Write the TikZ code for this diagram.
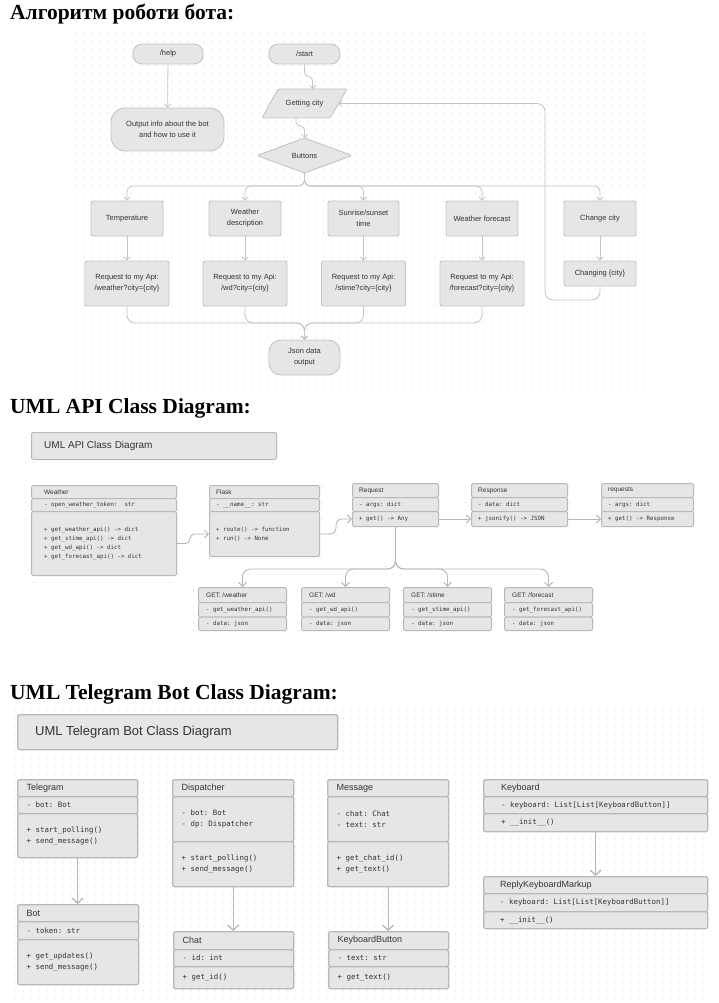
\documentclass[tikz,border=0pt]{standalone}
\usepackage{fontspec}
\setmainfont{Liberation Serif}
\setsansfont{Liberation Sans}
\setmonofont{DejaVu Sans Mono}
\usetikzlibrary{arrows.meta,calc}
\definecolor{fl}{HTML}{E6E6E6}
\definecolor{bd}{HTML}{C4C4C4}
\definecolor{bdu}{HTML}{B8B8B8}
\definecolor{tx}{HTML}{333333}
\definecolor{ln}{HTML}{C4C4C4}
\definecolor{lnu}{HTML}{B8B8B8}
\definecolor{dotc}{HTML}{DADADA}
\newcommand\ucomp[8]{%
  \node[comp, minimum width=#4pt, minimum height=#5pt, anchor=north west] (#1) at (#2,#3) {};
  \node[utext, #7, anchor=west] (#1t) at ([xshift=#6pt]#1.west) {#8};
}
\tikzset{
  fbox/.style={draw=bd, fill=fl, line width=0.9pt, rounded corners=2pt, text=tx,
    font=\fontsize{7.5}{11}\selectfont\sffamily, align=center, inner sep=0pt},
  pill/.style={fbox, rounded corners=9pt},
  ftext/.style={text=tx, font=\fontsize{7.5}{11}\selectfont\sffamily, align=center, inner sep=0pt},
  fshape/.style={draw=bd, fill=fl, line width=0.9pt, rounded corners=1.5pt},
  conn/.style={draw=ln, line width=0.8pt, -{Straight Barb[length=3pt,width=6pt]}},
  comp/.style={draw=bdu, fill=fl, line width=1pt, rounded corners=1.5pt, inner sep=0pt},
  utext/.style={inner sep=0pt, align=left, text=tx},
  ahd/.style={font=\fontsize{6.5}{8}\selectfont\sffamily},
  amono/.style={font=\fontsize{5.8}{8.7}\selectfont\ttfamily},
  thd/.style={font=\fontsize{9}{11}\selectfont\sffamily},
  tmono/.style={font=\fontsize{7.4}{11}\selectfont\ttfamily},
  uconn/.style={draw=lnu, line width=0.9pt, -{Straight Barb[length=4pt,width=8pt]}},
  tconn/.style={draw=lnu, line width=1.3pt, -{Straight Barb[length=5pt,width=11pt]}},
  heading/.style={font=\fontsize{21.5}{24}\selectfont\bfseries, anchor=base west, inner sep=0pt},
}
\begin{document}
\begin{tikzpicture}[x=1pt,y=-1pt]
\fill[white] (0,0) rectangle (719,1003);
\useasboundingbox (0,0) rectangle (719,1003);

% dot grids
\fill[dotc] \foreach \x in {75,83,...,643} { \foreach \y in {33,41,...,385} { (\x,\y) rectangle ++(0.9,0.9) } };
\fill[dotc] \foreach \x in {25,33,...,700} { \foreach \y in {430,438,...,645} { (\x,\y) rectangle ++(0.9,0.9) } };
\fill[dotc] \foreach \x in {15,23,...,710} { \foreach \y in {710,718,...,998} { (\x,\y) rectangle ++(0.9,0.9) } };

% headings
\node[heading] (h1) at (10,19.5) {Алгоритм роботи бота:};
\node[heading] (h2) at (10,413) {UML API Class Diagram:};
\node[heading] (h3) at (10,699) {UML Telegram Bot Class Diagram:};

% ===== flowchart =====
\node[pill, minimum width=70pt, minimum height=20pt] (help) at (168,54) {/help};
\node[pill, minimum width=71pt, minimum height=20pt] (start) at (304.5,54) {/start};
\node[fbox, rounded corners=14pt, minimum width=113pt, minimum height=43pt] (out) at (167.5,129.5) {Output info about the bot\\and how to use it};
\draw[fshape] (278,89) -- (347,89) -- (330,118) -- (262,118) -- cycle;
\node[ftext] (gc) at (304.5,103.5) {Getting city};
\coordinate (gcT) at (312.5,89);
\coordinate (gcB) at (296,118);
\coordinate (gcR) at (338.5,103.5);
\draw[fshape] (257,155.5) -- (304.5,138) -- (352,155.5) -- (304.5,173) -- cycle;
\node[ftext] (btn) at (304.5,155.5) {Buttons};
\coordinate (btnT) at (304.5,138);
\coordinate (btnB) at (304.5,173);

\node[fbox, minimum width=72pt, minimum height=35pt] (temp) at (127,218.5) {Temperature};
\node[fbox, minimum width=72pt, minimum height=35pt] (wdesc) at (245,218.5) {Weather\\description};
\node[fbox, minimum width=71pt, minimum height=35pt] (sun) at (363.5,218.5) {Sunrise/sunset\\time};
\node[fbox, minimum width=72pt, minimum height=35pt] (fc) at (482,218.5) {Weather forecast};
\node[fbox, minimum width=72pt, minimum height=35pt] (cc) at (600,218.5) {Change city};

\node[fbox, minimum width=84pt, minimum height=45pt] (r1) at (127,283.5) {Request to my Api:\\/weather?city=\{city\}};
\node[fbox, minimum width=84pt, minimum height=45pt] (r2) at (245,283.5) {Request to my Api:\\/wd?city=\{city\}};
\node[fbox, minimum width=84pt, minimum height=45pt] (r3) at (363.5,283.5) {Request to my Api:\\/stime?city=\{city\}};
\node[fbox, minimum width=84pt, minimum height=45pt] (r4) at (482,283.5) {Request to my Api:\\/forecast?city=\{city\}};
\node[fbox, minimum width=72pt, minimum height=25pt] (chg) at (600,273.5) {Changing \{city\}};
\node[fbox, rounded corners=12pt, minimum width=71pt, minimum height=35pt] (json) at (304.5,357.5) {Json data\\output};

\draw[conn] (help) -- (out);
\draw[conn, rounded corners=4pt] (start.south) -- ++(0,12) -| (gcT);
\draw[conn, rounded corners=4pt] (gcB) -- ++(0,8) -| (btnT);
\coordinate (bj) at (304.5,186);
\foreach \n in {temp,wdesc,sun,fc,cc}
  \draw[conn, rounded corners=6pt] (btnB) |- (\n.north |- bj) -- (\n.north);
\draw[conn] (temp) -- (r1);
\draw[conn] (wdesc) -- (r2);
\draw[conn] (sun) -- (r3);
\draw[conn] (fc) -- (r4);
\draw[conn] (cc) -- (chg);
\coordinate (lp) at (545,300);
\draw[conn, rounded corners=8pt] (chg.south) |- (lp) |- (gcR);
\coordinate (jj) at (304.5,323);
\foreach \n in {r1,r2,r3,r4}
  \draw[conn, rounded corners=8pt] (\n.south) |- (json.north |- jj) -- (json.north);

% ===== UML API =====
\node[comp, rounded corners=2pt, minimum width=245pt, minimum height=27pt, anchor=north west] (apit) at (31,432) {};
\node[utext, font=\fontsize{10}{12}\selectfont\sffamily, anchor=west] (apitt) at ([xshift=13pt]apit.west) {UML API Class Diagram};

\ucomp{wh}{31}{485}{145}{13}{13}{ahd}{Weather}
\ucomp{wa}{31}{498}{145}{13}{13}{amono}{- open\_weather\_token:~\ str}
\ucomp{wm}{31}{511}{145}{64}{13}{amono}{+ get\_weather\_api() -> dict\\+ get\_stime\_api() -> dict\\+ get\_wd\_api() -> dict\\+ get\_forecast\_api() -> dict}

\ucomp{fh}{209}{485}{110}{13}{7}{ahd}{Flask}
\ucomp{fa}{209}{498}{110}{13}{7}{amono}{- \_\_name\_\_: str}
\ucomp{fm}{209}{511}{110}{45}{7}{amono}{+ route() -> function\\+ run() -> None}

\ucomp{rh}{352}{483}{86}{14}{7}{ahd}{Request}
\ucomp{ra}{352}{497}{86}{14}{7}{amono}{- args: dict}
\ucomp{rm}{352}{511}{86}{15}{7}{amono}{+ get() -> Any}

\ucomp{sph}{471}{483}{96}{14}{7}{ahd}{Response}
\ucomp{spa}{471}{497}{96}{14}{7}{amono}{- data: dict}
\ucomp{spm}{471}{511}{96}{15}{7}{amono}{+ jsonify() -> JSON}

\ucomp{qh}{601}{483}{92}{14}{7}{ahd}{requests}
\ucomp{qa}{601}{497}{92}{14}{7}{amono}{- args: dict}
\ucomp{qm}{601}{511}{92}{15}{7}{amono}{+ get() -> Response}

\ucomp{g1h}{198}{587}{88}{15}{8}{ahd}{GET: /weather}
\ucomp{g1a}{198}{602}{88}{14.5}{8}{amono}{- get\_weather\_api()}
\ucomp{g1d}{198}{616.5}{88}{13.5}{8}{amono}{- data: json}
\ucomp{g2h}{301}{587}{88}{15}{8}{ahd}{GET: /wd}
\ucomp{g2a}{301}{602}{88}{14.5}{8}{amono}{- get\_wd\_api()}
\ucomp{g2d}{301}{616.5}{88}{13.5}{8}{amono}{- data: json}
\ucomp{g3h}{403}{587}{88}{15}{8}{ahd}{GET: /stime}
\ucomp{g3a}{403}{602}{88}{14.5}{8}{amono}{- get\_stime\_api()}
\ucomp{g3d}{403}{616.5}{88}{13.5}{8}{amono}{- data: json}
\ucomp{g4h}{504}{587}{88}{15}{8}{ahd}{GET: /forecast}
\ucomp{g4a}{504}{602}{88}{14.5}{8}{amono}{- get\_forecast\_api()}
\ucomp{g4d}{504}{616.5}{88}{13.5}{8}{amono}{- data: json}

\draw[uconn, rounded corners=4.5pt] (wm.east) -- ++(13,0) |- (fm.west);
\draw[uconn, rounded corners=6pt] (fm.east) -- ++(16,0) |- (rm.west);
\draw[uconn] (rm.east) -- (spm.west);
\draw[uconn] (spm.east) -- (qm.west);
\coordinate (gj) at (395,569);
\foreach \n in {g1h,g2h,g3h,g4h}
  \draw[uconn, rounded corners=8pt] (rm.south) |- (\n.north |- gj) -- (\n.north);

% ===== UML Telegram =====
\begin{scope}[comp/.style={draw=bdu, fill=fl, line width=1.3pt, rounded corners=2pt, inner sep=0pt}]
\node[comp, minimum width=320pt, minimum height=35pt, anchor=north west] (tgt) at (17,714) {};
\node[utext, font=\fontsize{13}{15}\selectfont\sffamily, anchor=west] (tgtt) at ([xshift=18pt]tgt.west) {UML Telegram Bot Class Diagram};

\ucomp{th}{17}{779}{120}{17}{9.5}{thd}{Telegram}
\ucomp{ta}{17}{796}{120}{17}{9.5}{tmono}{- bot: Bot}
\ucomp{tm}{17}{813}{120}{44}{9.5}{tmono}{+ start\_polling()\\+ send\_message()}

\ucomp{bh}{17}{904}{121}{17}{9.5}{thd}{Bot}
\ucomp{ba}{17}{921}{121}{18}{9.5}{tmono}{- token: str}
\ucomp{bm}{17}{939}{121}{45}{9.5}{tmono}{+ get\_updates()\\+ send\_message()}

\ucomp{dh}{172}{779}{121}{17}{9.5}{thd}{Dispatcher}
\ucomp{da}{172}{796}{121}{45}{9.5}{tmono}{- bot: Bot\\- dp: Dispatcher}
\ucomp{dm}{172}{841}{121}{45}{9.5}{tmono}{+ start\_polling()\\+ send\_message()}

\ucomp{ch}{173}{931}{120}{18}{9.5}{thd}{Chat}
\ucomp{ca}{173}{949}{120}{17}{9.5}{tmono}{- id: int}
\ucomp{cm}{173}{966}{120}{22}{9.5}{tmono}{+ get\_id()}

\ucomp{mh}{327}{779}{121}{17}{9.5}{thd}{Message}
\ucomp{ma}{327}{796}{121}{45}{9.5}{tmono}{- chat: Chat\\- text: str}
\ucomp{mm}{327}{841}{121}{45}{9.5}{tmono}{+ get\_chat\_id()\\+ get\_text()}

\ucomp{kbh}{328}{931}{120}{18}{9.5}{thd}{KeyboardButton}
\ucomp{kba}{328}{949}{120}{17}{9.5}{tmono}{- text: str}
\ucomp{kbm}{328}{966}{120}{22}{9.5}{tmono}{+ get\_text()}

\ucomp{kh}{483}{779}{224}{17}{18}{thd}{Keyboard}
\ucomp{ka}{483}{796}{224}{17}{18}{tmono}{- keyboard: List[List[KeyboardButton]]}
\ucomp{km}{483}{813}{224}{18}{18}{tmono}{+ \_\_init\_\_()}

\ucomp{rkh}{483}{876}{224}{17}{17}{thd}{ReplyKeyboardMarkup}
\ucomp{rka}{483}{893}{224}{18}{17}{tmono}{- keyboard: List[List[KeyboardButton]]}
\ucomp{rkm}{483}{911}{224}{17}{17}{tmono}{+ \_\_init\_\_()}
\end{scope}

\draw[tconn] (tm.south) -- (tm.south |- bh.north);
\draw[tconn] (dm.south) -- (dm.south |- ch.north);
\draw[tconn] (mm.south) -- (mm.south |- kbh.north);
\draw[tconn] (km.south) -- (km.south |- rkh.north);
\end{tikzpicture}
\end{document}
